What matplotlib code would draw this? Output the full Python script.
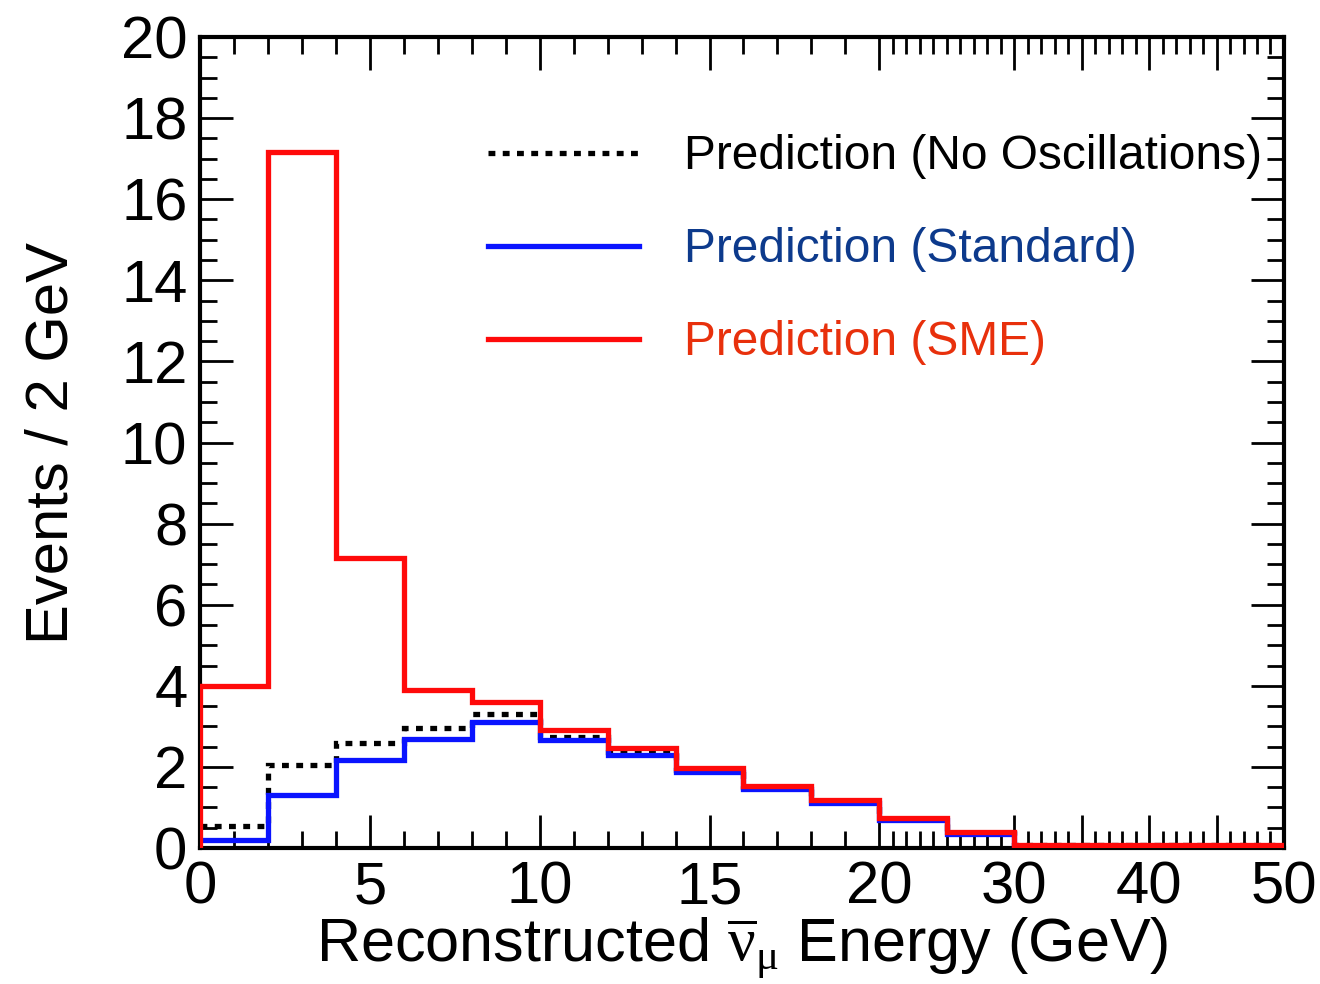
import numpy as np
import matplotlib
matplotlib.use("Agg")
import matplotlib.pyplot as plt
from matplotlib.ticker import FixedLocator, MultipleLocator

plt.rcParams['font.family'] = ['Liberation Sans', 'DejaVu Sans']
plt.rcParams['mathtext.fontset'] = 'custom'
plt.rcParams['mathtext.rm'] = 'Liberation Serif'
plt.rcParams['mathtext.it'] = 'Liberation Serif:italic'

# bin edges (GeV)
edges = [0, 2, 4, 6, 8, 10, 12, 14, 16, 18, 20, 25, 30, 50]

# events / 2 GeV
no_osc = [0.54, 2.05, 2.6, 2.96, 3.3, 2.74, 2.37, 1.92, 1.5, 1.14, 0.72, 0.37, 0.07]
standard = [0.2, 1.3, 2.17, 2.7, 3.1, 2.66, 2.3, 1.87, 1.45, 1.1, 0.7, 0.35, 0.06]
sme = [4.0, 17.16, 7.15, 3.9, 3.6, 2.9, 2.47, 1.97, 1.53, 1.18, 0.74, 0.39, 0.07]

xticks = [0, 5, 10, 15, 20, 30, 40, 50]
xticklabels = ["0", "5", "10", "15", "20", "30", "40", "50"]

# compressed x-axis above 20 GeV
def fwd(x):
    x = np.asarray(x, dtype=float)
    return np.where(x <= 20, x, 20 + (x - 20) * 13.5 / 34.0)

def inv(u):
    u = np.asarray(u, dtype=float)
    return np.where(u <= 20, u, 20 + (u - 20) * 34.0 / 13.5)

fig = plt.figure(figsize=(13.2, 9.84), dpi=100)
ax = fig.add_axes([0.1515, 0.1382, 0.9727 - 0.1515, 0.9624 - 0.1382])
ax.set_xscale('function', functions=(fwd, inv))

lw = 3.8
ax.stairs(no_osc, edges, color='black', lw=lw, linestyle=(0, (1.3, 1.4)),
          baseline=None, label='Prediction (No Oscillations)', zorder=2)
ax.stairs(standard, edges, color='#0a14ff', lw=lw, baseline=None,
          label='Prediction (Standard)', zorder=3)
ax.stairs(sme, edges, color='#ff0a0a', lw=lw, baseline=None,
          label='Prediction (SME)', zorder=4)
# vertical edge at x=0 like the ROOT histogram
ax.plot([0, 0], [0, sme[0]], color='#ff0a0a', lw=lw, zorder=4)

ax.set_xlim(0, 50)
ax.set_ylim(0, 20)

ax.xaxis.set_major_locator(FixedLocator(xticks + [35, 45]))
ax.set_xticklabels(xticklabels + ["", ""])
ax.xaxis.set_minor_locator(FixedLocator([v for v in range(0, 51) if v not in xticks + [35, 45]]))
ax.yaxis.set_major_locator(MultipleLocator(2))
ax.yaxis.set_minor_locator(MultipleLocator(0.5))

ax.tick_params(which='both', direction='in', top=True, right=True, width=2)
ax.tick_params(which='major', length=24, labelsize=43, pad=9)
ax.tick_params(which='minor', length=12)
for s in ax.spines.values():
    s.set_linewidth(3)

ax.set_xlabel(r'Reconstructed $\overline{\mathrm{\nu}}_{\mathrm{\mu}}$ Energy (GeV)', fontsize=44, labelpad=0)
ax.set_ylabel('Events / 2 GeV', fontsize=43, labelpad=30)

leg = ax.legend(loc='upper right', bbox_to_anchor=(1.02, 0.933), frameon=False, fontsize=34.5,
                handlelength=3.15, handletextpad=0.95, labelspacing=1.0,
                labelcolor=['black', '#0d3a8c', '#e8300c'])

fig.savefig('out.png', dpi=100)
